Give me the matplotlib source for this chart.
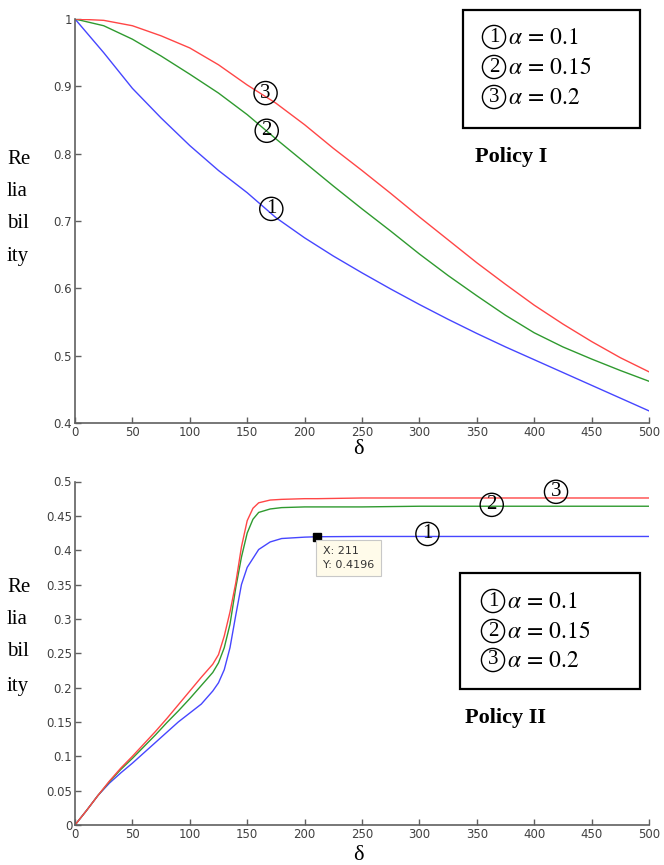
import numpy as np
import matplotlib.pyplot as plt
from matplotlib.patches import Rectangle

plt.rcParams['mathtext.fontset'] = 'stix'

# Policy I: reliability vs delta
d1 = [0, 25, 50, 75, 100, 125, 150, 175, 200, 225, 250, 275, 300, 325, 350, 375, 400, 425, 450, 475, 500]
r1_a01 = [1.0, 0.95, 0.897, 0.853, 0.812, 0.775, 0.742, 0.705, 0.675, 0.648, 0.623, 0.599, 0.576,
          0.554, 0.533, 0.513, 0.494, 0.475, 0.456, 0.437, 0.418]
r1_a015 = [1.0, 0.99, 0.97, 0.945, 0.918, 0.89, 0.858, 0.822, 0.787, 0.752, 0.718, 0.685, 0.651,
           0.619, 0.589, 0.56, 0.534, 0.513, 0.495, 0.478, 0.462]
r1_a02 = [1.0, 0.998, 0.99, 0.975, 0.957, 0.932, 0.902, 0.875, 0.843, 0.808, 0.775, 0.741, 0.706,
          0.672, 0.638, 0.606, 0.575, 0.547, 0.521, 0.497, 0.476]

# Policy II: reliability vs delta
d2 = [0, 10, 20, 30, 40, 50, 60, 70, 80, 90, 100, 110, 120, 125, 130, 135, 140, 145, 150, 155,
      160, 170, 180, 200, 211, 250, 300, 400, 500]
r2_a01 = [0, 0.021, 0.043, 0.061, 0.076, 0.09, 0.105, 0.12, 0.135, 0.15, 0.163, 0.176, 0.195, 0.207,
          0.226, 0.258, 0.305, 0.35, 0.375, 0.388, 0.401, 0.412, 0.417, 0.419, 0.4196, 0.42, 0.42,
          0.42, 0.42]
r2_a015 = [0, 0.021, 0.043, 0.063, 0.081, 0.097, 0.114, 0.131, 0.149, 0.166, 0.184, 0.203, 0.222,
           0.236, 0.258, 0.292, 0.345, 0.39, 0.425, 0.445, 0.455, 0.46, 0.462, 0.463, 0.463, 0.463,
           0.464, 0.464, 0.464]
r2_a02 = [0, 0.021, 0.043, 0.064, 0.083, 0.1, 0.118, 0.136, 0.155, 0.175, 0.195, 0.215, 0.234, 0.248,
          0.275, 0.31, 0.352, 0.405, 0.443, 0.461, 0.469, 0.473, 0.474, 0.475, 0.475, 0.476, 0.476,
          0.476, 0.476]

tip_x, tip_y = 211, 0.4196

alphas = ['0.1', '0.15', '0.2']
digits = ['1', '2', '3']
colors = ['#4646ff', '#2f9a2f', '#ff4646']

W, H = 664, 865
fig = plt.figure(figsize=(W / 100, H / 100), dpi=100)


def fx(px):
    return px / W


def fy(py):
    return 1 - py / H


def circled(target, x, y, d, size=15, **kw):
    # digit with a round frame
    target.text(x, y, d, fontsize=size, family='Liberation Serif', ha='center', va='center',
                bbox=dict(boxstyle='circle,pad=0.1', fc='none', ec='black', lw=1.0), **kw)


def style_axes(ax):
    for s in ['top', 'right']:
        ax.spines[s].set_visible(False)
    for s in ['left', 'bottom']:
        ax.spines[s].set_color('#606060')
        ax.spines[s].set_linewidth(1.2)
    ax.tick_params(direction='in', length=4, width=1, color='#606060',
                   labelcolor='#404040', labelsize=8.5, pad=2)
    ax.set_xlim(0, 500)
    ax.set_xticks(np.arange(0, 501, 50))


ax1 = fig.add_axes([fx(75), fy(423), fx(649) - fx(75), fy(19) - fy(423)])
ax2 = fig.add_axes([fx(75), fy(825), fx(649) - fx(75), fy(481.5) - fy(825)])

for ax in (ax1, ax2):
    style_axes(ax)

for r, c in zip([r1_a01, r1_a015, r1_a02], colors):
    ax1.plot(d1, r, color=c, lw=1.0)
ax1.set_ylim(0.4, 1.0)
ax1.set_yticks(np.arange(0.4, 1.01, 0.1))
ax1.set_yticklabels(['0.4', '0.5', '0.6', '0.7', '0.8', '0.9', '1'])

for r, c in zip([r2_a01, r2_a015, r2_a02], colors):
    ax2.plot(d2, r, color=c, lw=1.0)
ax2.set_ylim(0, 0.5)
ax2.set_yticks(np.arange(0, 0.501, 0.05))
ax2.set_yticklabels(['0', '0.05', '0.1', '0.15', '0.2', '0.25', '0.3', '0.35', '0.4', '0.45', '0.5'])

# curve labels
for (x, y), s in zip([(171, 0.718), (167, 0.834), (166, 0.89)], digits):
    circled(ax1, x, y, s)
for (x, y), s in zip([(307, 0.4236), (363, 0.466), (419, 0.485)], digits):
    circled(ax2, x, y, s)

# data tip
ax2.plot([tip_x], [tip_y], marker='s', color='black', ms=6, mec='black')
ax2.annotate('X: %d\nY: %.4f' % (tip_x, tip_y), xy=(tip_x, tip_y), xytext=(4, -7),
             textcoords='offset points', ha='left', va='top', fontsize=8, color='#333333',
             linespacing=1.4,
             bbox=dict(boxstyle='square,pad=0.6', fc='#fffbea', ec='#c8c8c8', lw=0.8))

# legend boxes and policy names
for (x0, y0, x1, y1), tx, ys, name, ny, nx in [
        ((463, 10, 640, 128), 494, [37, 67, 97], 'Policy I', 157, 475),
        ((460, 573, 640, 689), 493, [601, 631, 660], 'Policy II', 718, 465)]:
    fig.patches.append(Rectangle((fx(x0), fy(y1)), fx(x1) - fx(x0), fy(y0) - fy(y1),
                                 transform=fig.transFigure, fill=False, ec='black', lw=1.6))
    for d, a, y in zip(digits, alphas, ys):
        circled(fig, fx(tx), fy(y), d, transform=fig.transFigure)
        fig.text(fx(tx + 14), fy(y), r'$\alpha\,=\,%s$' % a, fontsize=17, ha='left', va='center')
    fig.text(fx(nx), fy(ny), name, fontsize=16, family='Liberation Serif', weight='bold',
             ha='left', va='center')

# y label split over lines, x label
for ys in ([160, 192, 224, 256], [588, 620, 652, 686]):
    for t, y in zip(['Re', 'lia', 'bil', 'ity'], ys):
        fig.text(fx(7), fy(y), t, fontsize=15, family='Liberation Serif', ha='left', va='center')
for y in (449, 855):
    fig.text(fx(358), fy(y), 'δ', fontsize=16, family='Liberation Serif', ha='center', va='center')

fig.savefig('out.png', dpi=100)
